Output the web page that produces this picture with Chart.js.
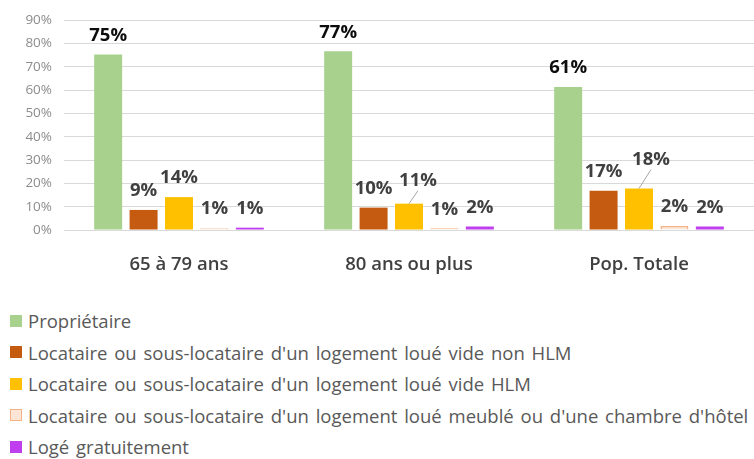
<!DOCTYPE html>
<html lang="fr">
<head>
<meta charset="utf-8">
<script src="https://cdn.jsdelivr.net/npm/chart.js"></script>
<style>
  html, body { margin: 0; padding: 0; background: #fff; }
  #wrap { position: relative; width: 754px; height: 459px; overflow: hidden; }
  #chart { position: absolute; left: 0; top: 0; }
  #legend { position: absolute; left: 10px; top: 305px; font-family: 'Open Sans', sans-serif; font-size: 18.5px; word-spacing: 2px; color: #595959; white-space: nowrap; }
  #legend .item { height: 31.5px; line-height: 31.5px; display: flex; align-items: center; }
  #legend .box { width: 12px; height: 12px; margin-right: 6px; box-sizing: border-box; flex: none; }
</style>
</head>
<body>
<div id="wrap">
  <canvas id="chart" width="754" height="280"></canvas>
  <div id="legend"></div>
</div>
<script>
// ===== données =====
const categories = ['65 à 79 ans', '80 ans ou plus', 'Pop. Totale'];
const seriesNames = [
  'Propriétaire',
  "Locataire ou sous-locataire d'un logement loué vide non HLM",
  "Locataire ou sous-locataire d'un logement loué vide HLM",
  "Locataire ou sous-locataire d'un logement loué meublé ou d'une chambre d'hôtel",
  'Logé gratuitement'
];
const proprietaire = [75.2, 76.6, 61.3];
const locataireNonHlm = [8.6, 9.6, 16.8];
const locataireHlm = [14.1, 11.3, 17.8];
const locataireMeuble = [0.8, 0.7, 1.7];
const logeGratuit = [1.0, 1.5, 1.5];
const yTicks = [0, 10, 20, 30, 40, 50, 60, 70, 80, 90];

// ===== styles =====
const fills = ['#A9D18E', '#C55A11', '#FFC000', '#FBE5D6', '#BF3FEF'];
const borders = ['#A9D18E', '#C55A11', '#FFC000', '#F4B183', '#BF3FEF'];
const FONT = "'Open Sans', sans-serif";

// décalage des étiquettes (dx, dy) par série / catégorie, + trait de rappel
const labelShift = {
  2: { 1: { dx: 9, dy: -23, leader: true }, 2: { dx: 12, dy: -29, leader: true } }
};

const valueLabels = {
  id: 'valueLabels',
  afterDatasetsDraw(chart) {
    const ctx = chart.ctx;
    ctx.save();
    ctx.textAlign = 'center';
    ctx.textBaseline = 'middle';
    chart.data.datasets.forEach((ds, di) => {
      const meta = chart.getDatasetMeta(di);
      meta.data.forEach((bar, i) => {
        const v = ds.data[i];
        const s = (labelShift[di] && labelShift[di][i]) || { dx: 0, dy: -19 };
        const x = bar.x + s.dx;
        const y = bar.y + s.dy;
        if (s.leader) {
          ctx.strokeStyle = '#a6a6a6';
          ctx.lineWidth = 1;
          ctx.beginPath();
          ctx.moveTo(bar.x, bar.y);
          ctx.lineTo(x, y + 10);
          ctx.stroke();
        }
        ctx.font = 'bold 18.5px ' + FONT;
        ctx.fillStyle = di === 0 ? '#0d0d0d' : '#404040';
        ctx.fillText(Math.round(v) + '%', x, y);
      });
    });
    ctx.restore();
  }
};

const chart = new Chart(document.getElementById('chart'), {
  type: 'bar',
  data: {
    labels: categories,
    datasets: [proprietaire, locataireNonHlm, locataireHlm, locataireMeuble, logeGratuit].map((d, k) => ({
      label: seriesNames[k],
      data: d,
      backgroundColor: fills[k],
      borderColor: borders[k],
      borderWidth: k === 3 ? 1.5 : 0,
      categoryPercentage: 0.77,
      barPercentage: 0.79
    }))
  },
  options: {
    responsive: false,
    devicePixelRatio: 1,
    animation: false,
    layout: { padding: { top: 13, right: 0, left: 0, bottom: 0 } },
    plugins: { legend: { display: false }, tooltip: { enabled: false } },
    scales: {
      x: {
        grid: { display: false },
        border: { display: false },
        ticks: { color: '#404040', font: { family: FONT, size: 18.5, weight: '600' }, padding: 16 },
        afterFit(scale) { scale.height = 50; }
      },
      y: {
        min: 0, max: 90,
        afterBuildTicks(scale) { scale.ticks = yTicks.map(v => ({ value: v })); },
        grid: { color: '#d9d9d9', lineWidth: 1, drawTicks: false },
        border: { display: false },
        ticks: { color: '#8c8c8c', font: { family: FONT, size: 13.5 }, padding: 12, callback: v => v + '%' },
        afterFit(scale) { scale.width = 64; }
      }
    }
  },
  plugins: [valueLabels]
});

// légende HTML, une ligne par série
const legend = document.getElementById('legend');
chart.data.datasets.forEach((ds, k) => {
  const item = document.createElement('div');
  item.className = 'item';
  const box = document.createElement('span');
  box.className = 'box';
  box.style.background = fills[k];
  if (k === 3) box.style.border = '1.5px solid ' + borders[k];
  item.appendChild(box);
  item.appendChild(document.createTextNode(ds.label));
  legend.appendChild(item);
});
</script>
</body>
</html>
